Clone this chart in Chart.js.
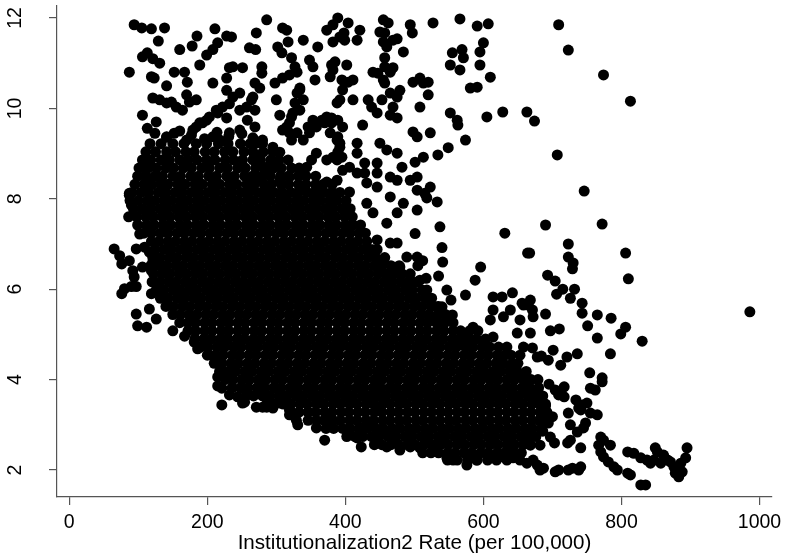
<!DOCTYPE html>
<html>
<head>
<meta charset="utf-8">
<script src="https://cdn.jsdelivr.net/npm/chart.js@4.4.1/dist/chart.umd.min.js"></script>
<style>
html, body { margin: 0; padding: 0; background: #fff; }
canvas { display: block; }
</style>
</head>
<body>
<canvas id="chart1" width="785" height="556"></canvas>
<script>
const xTitle = 'Institutionalization2 Rate (per 100,000)';
const xTicks = [0, 200, 400, 600, 800, 1000];
const yTicks = [2, 4, 6, 8, 10, 12];

// solid core of the cloud, read row by row: [y, [x, x, ...]]
const coreRows = [
  [9.22, [117,133,150,166,184,199,216,230,248,262,280]],
  [9.04, [111,125,141,154,169,181,197,210,225,237,253,266,281,295]],
  [8.86, [106,118,133,145,160,172,185,199,211,226,238,251,266,277,292,304,317]],
  [8.68, [101,114,126,140,151,165,177,192,203,218,229,244,255,270,282,296,307,322,333]],
  [8.50, [99,110,124,135,150,161,176,187,202,213,228,239,254,265,280,291,306,317,332,343,357]],
  [8.32, [95,108,119,132,143,157,168,182,193,207,218,232,243,257,268,282,293,307,318,332,343,357,368,381]],
  [8.14, [91,104,115,129,140,153,164,177,188,201,212,225,236,249,260,273,284,297,308,321,332,345,356,369,380,392]],
  [7.96, [88,100,113,124,137,148,161,172,185,196,209,220,233,244,257,268,281,292,305,316,329,340,353,364,377,388,401]],
  [7.78, [93,106,118,131,142,155,166,179,190,203,214,227,238,251,262,275,286,299,310,323,334,347,358,371,382,395,407]],
  [7.60, [86,98,111,122,135,146,159,170,183,194,207,218,231,242,255,266,279,290,303,314,327,338,351,362,375,386,399,410]],
  [7.42, [99,112,123,136,147,160,171,184,195,208,219,232,243,256,267,280,291,304,315,328,339,352,363,376,387,400,411,422]],
  [7.24, [108,119,132,143,156,167,180,191,204,215,228,239,252,263,276,287,300,311,324,335,348,359,372,383,396,407,420,429]],
  [7.06, [119,130,143,154,167,178,191,202,215,226,239,250,263,274,287,298,311,322,335,346,359,370,383,394,407,418,431]],
  [6.88, [124,137,148,161,172,185,196,209,220,233,244,257,268,281,292,305,316,329,340,353,364,377,388,401,412,425,436,446]],
  [6.70, [121,132,145,156,169,180,193,204,217,228,241,252,265,276,289,300,313,324,337,348,361,372,385,396,409,420,433,444,457]],
  [6.52, [118,130,141,154,165,178,189,202,213,226,237,250,261,274,285,298,309,322,333,346,357,370,381,394,405,418,429,442,453,466,478]],
  [6.34, [122,135,146,159,170,183,194,207,218,231,242,255,266,279,290,303,314,327,338,351,362,375,386,399,410,423,434,447,458,471,482,494]],
  [6.16, [120,131,144,155,168,179,192,203,216,227,240,251,264,275,288,299,312,323,336,347,360,371,384,395,408,419,432,443,456,467,480,491,504]],
  [5.98, [126,137,150,161,174,185,198,209,222,233,246,257,270,281,294,305,318,329,342,353,366,377,390,401,414,425,438,449,462,473,486,497,511]],
  [5.80, [132,143,156,167,180,191,204,215,228,239,252,263,276,287,300,311,324,335,348,359,372,383,396,407,420,431,444,455,468,479,492,503,516,525]],
  [5.62, [140,151,164,175,188,199,212,223,236,247,260,271,284,295,308,319,332,343,356,367,380,391,404,415,428,439,452,463,476,487,500,511,524,535]],
  [5.44, [150,161,174,185,198,209,222,233,246,257,270,281,294,305,318,329,342,353,366,377,390,401,414,425,438,449,462,473,486,497,510,521,534,545]],
  [5.26, [160,172,183,196,207,220,231,244,255,268,279,292,303,316,327,340,351,364,375,388,399,412,423,436,447,460,471,484,495,508,519,532,543,556]],
  [5.08, [172,183,196,207,220,231,244,255,268,279,292,303,316,327,340,351,364,375,388,399,412,423,436,447,460,471,484,495,508,519,532,543,556,567,580,592]],
  [4.90, [182,195,206,219,230,243,254,267,278,291,302,315,326,339,350,363,374,387,398,411,422,435,446,459,470,483,494,507,518,531,542,555,566,579,590,603]],
  [4.72, [190,201,214,225,238,249,262,273,286,297,310,321,334,345,358,369,382,393,406,417,430,441,454,465,478,489,502,513,526,537,550,561,574,585,598,609,622]],
  [4.54, [200,212,223,236,247,260,271,284,295,308,319,332,343,356,367,380,391,404,415,428,439,452,463,476,487,500,511,524,535,548,559,572,583,596,607,620,631,640]],
  [4.36, [210,221,234,245,258,269,282,293,306,317,330,341,354,365,378,389,402,413,426,437,450,461,474,485,498,509,522,533,546,557,570,581,594,605,618,629,642,650]],
  [4.18, [218,230,241,254,265,278,289,302,313,326,337,350,361,374,385,398,409,422,433,446,457,470,481,494,505,518,529,542,553,566,577,590,601,614,625,638,649,662]],
  [4.00, [226,237,250,261,274,285,298,309,322,333,346,357,370,381,394,405,418,429,442,453,466,477,490,501,514,525,538,549,562,573,586,597,610,621,634,645,658,669,679]],
  [3.82, [236,248,259,272,283,296,307,320,331,344,355,368,379,392,403,416,427,440,451,464,475,488,499,512,523,536,547,560,571,584,595,608,619,632,643,656,667,680]],
  [3.64, [256,267,280,291,304,315,328,339,352,363,376,387,400,411,424,435,448,459,472,483,496,507,520,531,544,555,568,579,592,603,616,627,640,651,664,675,686]],
  [3.46, [286,297,310,321,334,345,358,369,382,393,406,417,430,441,454,465,478,489,502,513,526,537,550,561,574,585,598,609,622,633,646,657,670,681,690]],
  [3.28, [322,333,346,357,370,381,394,405,418,429,442,453,466,477,490,501,514,525,538,549,562,573,586,597,610,621,634,645,658,669,682,692]],
  [3.10, [346,358,369,382,393,406,417,430,441,454,465,478,489,502,513,526,537,550,561,574,585,598,609,622,633,646,657,670,681,690]],
  [2.92, [372,383,396,407,420,431,444,455,468,479,492,503,516,527,540,551,564,575,588,599,612,623,636,647,660,671,684]],
  [2.74, [402,414,425,438,449,462,473,486,497,510,521,534,545,558,569,582,593,606,617,630,641,654,665,676]],
  [2.56, [442,453,466,477,490,501,514,525,538,549,562,573,586,597,610,621,634,645,658,668]],
  [2.38, [512,524,535,548,559,572,583,596,607,620,631,644,655]],
  [2.22, [548,562,577,590,606,619,634]]
];

// sparse upper part of the cloud
const upperPoints = [
  [124,9.45],[141,9.36],[160,9.5],[177,9.41],[196,9.33],[214,9.47],[231,9.38],[250,9.44],[266,9.35],
  [94,11.85],[105,11.78],[119,11.76],[138,11.78],[129,11.49],[87,10.8],[160,11.3],[178,11.38],[185,11.6],
  [211,11.76],[228,11.6],[235,11.58],[215,11.45],[208,11.3],[199,11.18],[189,10.96],[106,11.14],[113,11.23],
  [121,11.1],[131,11.0],[119,10.7],[123,10.67],[141,10.5],[152,10.8],[167,10.8],[171,10.58],[170,10.3],
  [121,10.23],[131,10.19],[141,10.12],[148,10.14],[155,10.03],[164,9.96],[174,10.14],[184,10.19],[106,9.85],
  [113,9.56],[126,9.7],[141,9.37],[152,9.45],[208,10.56],[228,10.67],[232,10.9],[237,10.92],[251,10.9],
  [261,11.34],[271,11.67],[213,9.96],[222,10.03],[232,10.1],[237,10.25],[228,10.4],[247,9.96],[257,10.03],
  [258,9.74],[189,9.68],[199,9.74],[179,9.52],[170,9.3],[184,9.59],[193,9.68],[203,9.81],[215,9.9],
  [228,9.79],[247,9.52],[232,9.46],[208,9.37],[218,9.3],[266,10.25],[247,10.34],[269,9.96],[271,9.23],
  [286,11.96],[309,11.78],[315,11.73],[270,11.3],[302,11.36],[308,11.23],[317,11.47],[339,11.51],[360,11.36],
  [373,11.73],[382,11.85],[389,12.0],[398,11.67],[404,11.89],[421,11.73],[417,11.51],[382,11.47],[392,11.58],
  [399,11.51],[455,11.96],[462,11.89],[450,11.69],[457,11.67],[475,11.54],[494,11.85],[497,11.67],[484,11.25],
  [460,11.36],[457,11.12],[527,11.89],[566,11.98],[591,11.82],[607,11.87],[555,11.23],[569,11.3],[571,11.12],
  [552,10.96],[566,10.85],[595,11.25],[600,11.45],[595,10.96],[610,10.69],[581,10.45],[591,10.47],[552,9.9],
  [562,9.74],[563,9.63],[574,9.3],[605,9.81],[628,9.92],[523,9.46],[498,9.48],[504,9.37],[549,9.13],
  [534,8.97],[513,8.92],[501,8.81],[508,10.03],[498,10.58],[508,10.67],[513,10.56],[520,10.58],[520,10.3],
  [479,10.4],[475,10.25],[469,11.51],[455,11.47],[457,10.92],[465,10.8],[469,10.9],[455,10.63],[440,10.8],
  [447,10.78],[433,10.19],[438,10.03],[446,9.9],[457,10.56],[465,10.34],[453,10.19],[469,10.03],[465,9.85],
  [475,9.79],[425,9.63],[402,10.96],[411,10.19],[380,10.96],[385,11.03],[378,10.7],[382,10.85],[395,10.63],
  [404,10.58],[411,10.63],[396,10.41],[392,10.19],[388,10.12],[348,11.07],[353,10.92],[322,11.12],[327,10.92],
  [330,10.8],[334,10.45],[330,10.34],[339,10.19],[334,9.96],[322,9.81],[315,9.59],[319,9.46],[305,9.85],
  [300,10.19],[298,10.56],[309,10.67],[319,10.74],[279,10.92],[279,10.78],[269,10.56],[276,10.45],[264,10.19],
  [356,10.63],[353,9.74],[346,9.59],[358,9.59],[370,9.68],[380,9.79],[389,9.74],[396,9.59],[389,9.37],
  [392,9.23],[389,9.03],[388,8.86],[417,9.23],[417,9.01],[428,8.79],[446,8.79],[450,9.23],[460,9.08],
  [475,9.01],[482,8.7],[428,8.57],[446,8.57],[465,8.48],[475,8.41],[494,8.41],[504,8.48],[504,8.19],
  [515,8.12],[523,8.26],[269,9.59],[280,9.3],[271,8.92],[286,8.7],[295,9.14],[305,9.03],[309,9.52],
  [319,9.68],[324,9.9],[327,10.12],[334,10.41],[330,9.46],[322,9.3],[339,9.3],[348,9.46],[366,9.74],
  [373,9.81],[380,9.68],[378,9.46],[388,9.3],[392,9.14],[395,8.92],[382,8.92],[373,8.86],[358,9.01],
  [351,8.86],[344,8.7],[334,8.57],[319,8.48],[305,8.41],[290,8.57],[276,8.48],[266,8.26],[286,8.12],
  [309,8.12],[334,8.19],[358,8.26],[373,8.37],[388,8.41],[396,8.63],[406,8.7],[417,8.57],[431,8.35],
  [446,8.26],[406,8.15],[382,8.12],[358,8.04]
];

// ragged right edge of the core, middle heights
const middlePoints = [
  [465,8.04],[484,7.9],[504,7.75],[440,7.69],[431,7.9],[460,7.46],[501,7.23],[465,7.02],[475,7.02],
  [446,7.09],[440,6.87],[455,6.65],[489,6.71],[504,6.71],[479,6.49],[465,6.36],[494,6.2],[508,6.2],
  [518,5.98],[523,5.76],[533,5.61],[533,7.93],[518,8.02],[475,7.69],[537,7.38],[540,6.92],[541,6.6],
  [535,6.29],[512,6.63],[517,6.24],[505,6.52],[547,5.98],[553,5.76],[540,5.61],[555,5.43],[545,5.27],
  [574,5.87],[588,6.2],[596,6.49],[631,7.24],[664,6.8],[533,5.25],[523,5.39],[571,5.03],[585,5.16],
  [571,4.81],[614,5.83],[627,5.83],[642,5.92],[668,5.76],[658,5.65],[614,5.54],[610,5.32],[629,5.39],
  [639,5.54],[653,5.32],[672,5.39],[649,5.03],[668,5.03],[614,4.94],[634,4.72],[658,4.72],[678,4.5],
  [653,4.54],[639,4.21],[620,4.37],[610,4.06],[658,4.06]
];

// thin tail to the right
const rightPoints = [
  [709,11.85],[723,11.29],[774,10.74],[813,10.16],[663,9.92],[674,9.72],[707,8.97],[746,8.17],[690,7.42],
  [772,7.44],[723,7.0],[667,6.8],[723,6.71],[730,6.58],[729,6.45],[806,6.8],[810,6.23],[693,6.31],
  [704,6.18],[715,6.0],[706,5.89],[732,6.0],[726,5.8],[743,5.69],[743,5.47],[765,5.43],[785,5.36],
  [751,5.19],[765,4.92],[806,5.16],[799,5.01],[830,4.85],[784,4.57],[736,4.57],[721,4.5],[710,5.12],
  [697,5.08],[690,5.45],[671,4.7],[684,4.52],[694,4.43],[701,4.65],[712,4.32],[754,4.15],[772,4.04],
  [665,5.65],[671,5.54],[656,5.69],[986,5.5]
];

// bottom right corner of the cloud
const lowerRightPoints = [
  [755,3.81],[762,3.77],[772,3.95],[750,3.48],[743,3.44],[738,3.37],[765,3.22],[748,3.04],[736,2.84],
  [726,2.66],[722,2.6],[741,2.49],[770,2.73],[774,2.66],[767,2.55],[784,2.55],[770,2.4],[774,2.29],
  [781,2.18],[789,2.07],[794,2.0],[809,1.93],[813,1.89],[828,1.67],[835,1.67],[809,2.4],[818,2.37],
  [828,2.27],[837,2.22],[842,2.15],[849,2.49],[852,2.4],[861,2.33],[867,2.22],[871,2.18],[876,2.07],
  [878,1.93],[883,1.85],[888,1.96],[893,2.27],[895,2.49],[886,2.15],[857,2.15],[847,2.22],[704,1.96],
  [709,2.0],[723,2.0],[729,2.04],[738,2.0],[741,2.07],[687,2.04],[682,2.0],[678,2.11],[672,2.22],
  [663,2.15],[653,2.22],[643,2.29],[634,2.4],[682,2.55],[697,2.73],[694,3.04],[703,2.6],[668,2.55],
  [726,3.0],[745,2.93],[723,3.26],[734,3.55],[755,3.26],[741,3.33],[717,3.62],[709,3.66],[704,3.77],
  [717,3.84],[695,3.9],[690,3.42],[700,3.18],[686,2.86],[676,3.7]
];

// lower and left edges of the core
const edgePoints = [
  [221,3.44],[254,3.5],[244,3.62],[280,3.39],[295,3.37],[305,3.48],[319,3.33],[329,3.1],[218,4.37],
  [215,4.06],[221,3.81],[232,3.66],[251,3.48],[271,3.39],[286,3.39],[279,3.73],[309,3.59],[319,3.22],
  [331,3.0],[346,3.28],[358,2.93],[370,2.66],[375,3.11],[404,2.82],[417,2.71],[423,2.51],[425,2.93],
  [460,2.51],[479,2.44],[494,2.51],[508,2.49],[527,2.55],[547,2.27],[556,2.22],[576,2.11],[591,2.22],
  [610,2.27],[629,2.29],[643,2.27],[440,3.04],[455,2.89],[450,3.33],
  [65,6.89],[73,6.74],[76,6.56],[87,6.63],[92,6.41],[94,6.27],[102,7.22],[109,6.93],[97,6.89],
  [116,6.82],[121,6.6],[106,6.49],[119,6.41],[76,5.9],[80,6.01],[90,6.06],[97,6.06],[119,5.9],
  [116,5.56],[97,5.45],[99,5.19],[112,5.16],[126,5.34],[150,5.08],[167,4.96],[181,4.83],[186,4.68],
  [208,4.52],[218,4.17],[215,3.86],[87,8.08],[90,7.86],[106,8.7],[112,8.48],[119,8.31],[87,8.12]
];

const pts = [];
coreRows.forEach(([y, xs]) => xs.forEach(x => pts.push({ x: x, y: y })));
[upperPoints, middlePoints, rightPoints, lowerRightPoints, edgePoints].forEach(list => {
  list.forEach(([x, y]) => pts.push({ x: x, y: y }));
});

Chart.defaults.font.family = '"Liberation Sans", Arial, Helvetica, sans-serif';
Chart.defaults.color = '#000';

const axisGrey = '#555';

const ctx1 = document.getElementById('chart1').getContext('2d');
const chart1 = new Chart(ctx1, {
  type: 'scatter',
  data: {
    datasets: [{
      data: pts,
      backgroundColor: '#000',
      borderWidth: 0,
      pointRadius: 5.5,
      pointHoverRadius: 5.5
    }]
  },
  options: {
    responsive: false,
    animation: false,
    events: [],
    layout: { padding: { top: 6, right: 13, bottom: 0, left: 0 } },
    plugins: { legend: { display: false }, tooltip: { enabled: false } },
    scales: {
      x: {
        type: 'linear',
        min: -17.8,
        max: 1018.1,
        afterBuildTicks: s => { s.ticks = xTicks.map(v => ({ value: v })); },
        afterFit: s => { s.height = 59; s.paddingLeft = 0; s.paddingRight = 0; },
        ticks: {
          autoSkip: false,
          maxRotation: 0,
          padding: 6,
          color: '#000',
          font: { size: 19.5 },
          callback: v => String(v)
        },
        grid: { drawOnChartArea: false, drawTicks: true, tickLength: 8, color: axisGrey, lineWidth: 1.2 },
        border: { display: true, color: axisGrey, width: 1.2 },
        title: {
          display: true,
          text: xTitle,
          color: '#000',
          font: { size: 20.6 },
          padding: { top: 0, bottom: 0.7 }
        }
      },
      y: {
        type: 'linear',
        min: 1.403,
        max: 12.265,
        afterBuildTicks: s => { s.ticks = yTicks.map(v => ({ value: v })); },
        afterFit: s => { s.width = 57; s.paddingTop = 0; s.paddingBottom = 0; },
        ticks: {
          autoSkip: false,
          minRotation: 90,
          maxRotation: 90,
          crossAlign: 'center',
          padding: 23,
          color: '#000',
          font: { size: 19.5 },
          callback: v => String(v)
        },
        grid: { drawOnChartArea: false, drawTicks: true, tickLength: 8, color: axisGrey, lineWidth: 1.2 },
        border: { display: true, color: axisGrey, width: 1.2 }
      }
    }
  }
});
</script>
</body>
</html>
